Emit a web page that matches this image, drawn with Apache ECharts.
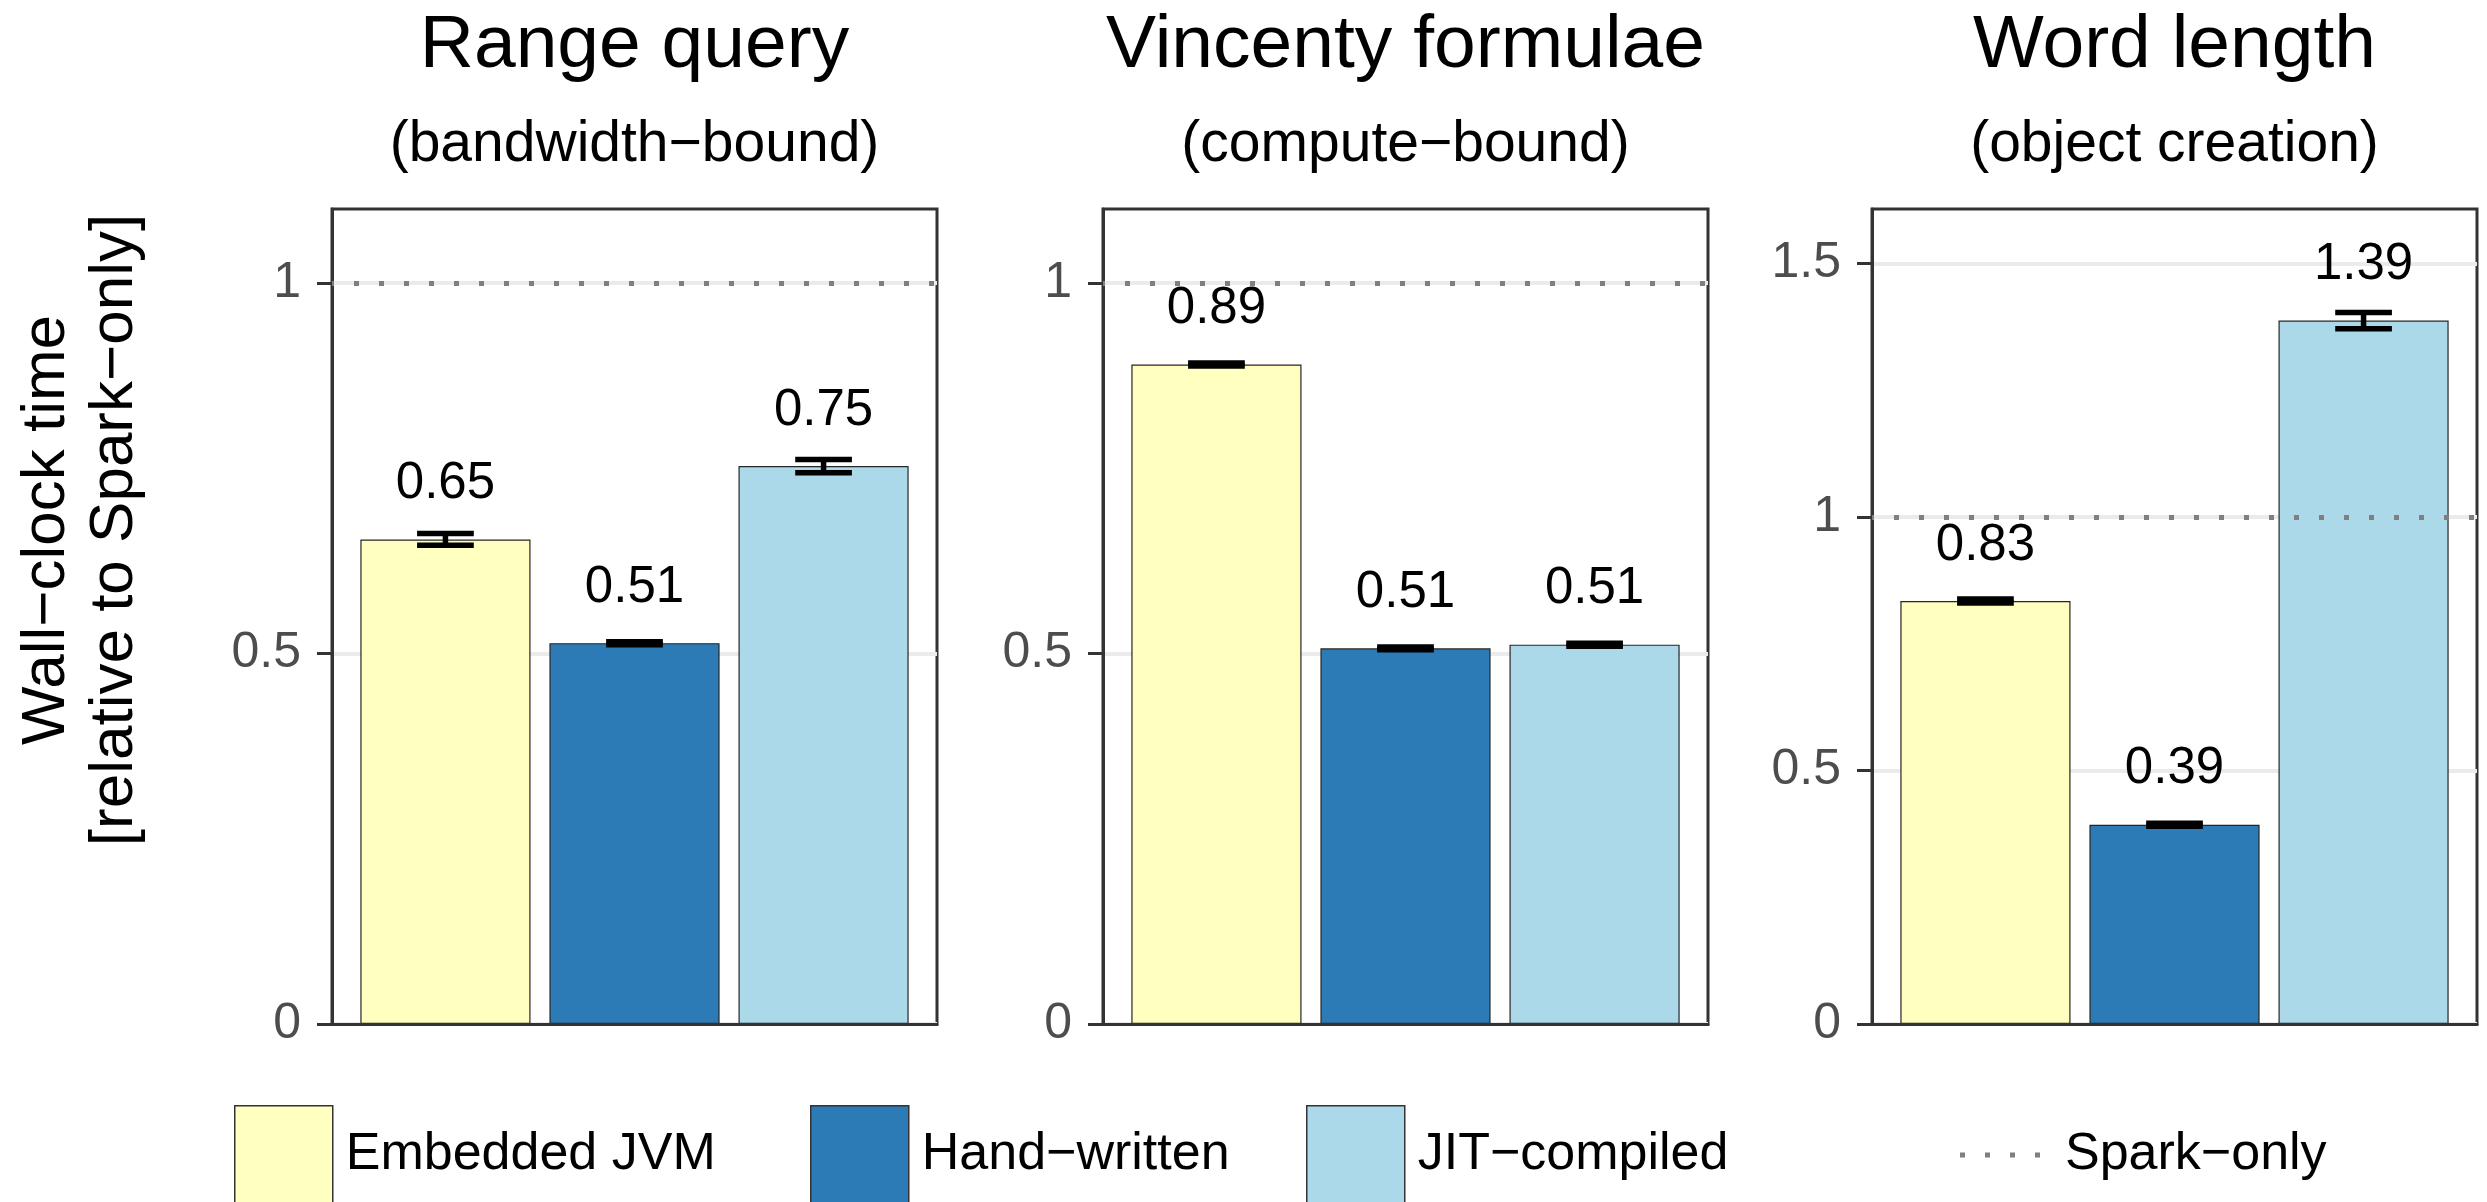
<!DOCTYPE html>
<html>
<head>
<meta charset="utf-8">
<script src="https://cdn.jsdelivr.net/npm/echarts@6/dist/echarts.min.js"></script>
<style>
  html, body { margin: 0; padding: 0; background: #ffffff; }
  #chart { width: 2487px; height: 1202px; }
</style>
</head>
<body>
<div id="chart"></div>
<script>
// Benchmarks (one panel each) and their workload class
const panelTitles = ['Range query', 'Vincenty formulae', 'Word length'];
const panelSubtitles = ['(bandwidth\u2212bound)', '(compute\u2212bound)', '(object creation)'];

// Implementation variants
const variants = ['Embedded JVM', 'Hand\u2212written', 'JIT\u2212compiled'];

// Mean wall-clock time relative to Spark-only, per benchmark
const embeddedJvm = [0.654, 0.890, 0.834];
const handWritten = [0.514, 0.507, 0.393];
const jitCompiled = [0.753, 0.512, 1.387];

// Half-width of the error bars, per benchmark
const embeddedJvmErr = [0.008, 0.002, 0.004];
const handWrittenErr = [0.002, 0.002, 0.003];
const jitCompiledErr = [0.009, 0.002, 0.016];

// Spark-only reference level
const sparkOnly = 1;
const sparkLabel = 'Spark\u2212only';

// Y axis extent and tick values per panel
const yMax = [1.1, 1.1, 1.607];
const yTicks = [[0, 0.5, 1], [0, 0.5, 1], [0, 0.5, 1, 1.5]];

// ---------------------------------------------------------------
const FONT = "'Liberation Sans', Arial, Helvetica, sans-serif";
const variantValues = [embeddedJvm, handWritten, jitCompiled];
const variantErrors = [embeddedJvmErr, handWrittenErr, jitCompiledErr];
const variantColors = ['#FFFFBF', '#2C7BB6', '#ABD9E9'];

const panelLeft = [332, 1103, 1872];
const PANEL_W = 605, PANEL_TOP = 209, PANEL_H = 815;
const FRAME = '#333333';

const panels = panelTitles.map((_, i) => i);

const grid = panels.map(i => ({
  left: panelLeft[i], top: PANEL_TOP, width: PANEL_W, height: PANEL_H,
  show: true, borderColor: FRAME, borderWidth: 3, backgroundColor: 'rgba(0,0,0,0)'
}));

const xAxis = panels.map(i => ({
  gridIndex: i, type: 'value', min: 0.4, max: 3.6, z: 10,
  axisLine: { show: true, onZero: false, lineStyle: { color: FRAME, width: 3 } },
  axisTick: { show: false }, axisLabel: { show: false }, splitLine: { show: false }
}));

const yAxis = panels.map(i => ({
  gridIndex: i, type: 'value', min: 0, max: yMax[i], interval: 0.5,
  axisLine: { show: true, lineStyle: { color: FRAME, width: 3 } },
  axisTick: { show: true, length: 15, customValues: yTicks[i], lineStyle: { color: FRAME, width: 3 } },
  axisLabel: { customValues: yTicks[i], margin: 31, fontSize: 50, color: '#4D4D4D', fontFamily: FONT },
  splitLine: { show: true, lineStyle: { color: '#EBEBEB', width: 4 } }
}));

const series = [];
panels.forEach(i => {
  // bars
  variants.forEach((name, k) => {
    series.push({
      type: 'bar', name, xAxisIndex: i, yAxisIndex: i,
      data: [[k + 1, variantValues[k][i]]],
      barWidth: '90%', barGap: '-100%', z: 2, silent: true,
      itemStyle: { color: variantColors[k], borderColor: '#262626', borderWidth: 1.2 },
      label: {
        show: true, position: 'top', distance: 30,
        fontSize: 51, lineHeight: 51, fontFamily: FONT, color: '#000000',
        formatter: p => p.value[1].toFixed(2)
      }
    });
  });
  // error bars
  series.push({
    type: 'custom', xAxisIndex: i, yAxisIndex: i, z: 3, silent: true,
    data: variants.map((_, k) => {
      const v = variantValues[k][i], e = variantErrors[k][i];
      return [k + 1, v - e, v + e];
    }),
    encode: { x: 0, y: [1, 2] },
    renderItem: (params, api) => {
      const x = api.value(0);
      const lo = api.coord([x, api.value(1)]);
      const hi = api.coord([x, api.value(2)]);
      const half = api.size([0.3, 0], [x, api.value(1)])[0] / 2;
      const st = { stroke: '#000000', lineWidth: 5.5, lineCap: 'butt' };
      return {
        type: 'group',
        children: [
          { type: 'line', shape: { x1: lo[0], y1: lo[1], x2: hi[0], y2: hi[1] }, style: st },
          { type: 'line', shape: { x1: lo[0] - half, y1: lo[1], x2: lo[0] + half, y2: lo[1] }, style: st },
          { type: 'line', shape: { x1: hi[0] - half, y1: hi[1], x2: hi[0] + half, y2: hi[1] }, style: st }
        ]
      };
    }
  });
  // Spark-only reference line
  series.push({
    type: 'line', name: sparkLabel, xAxisIndex: i, yAxisIndex: i, data: [],
    symbol: 'none', color: '#7F7F7F', z: 4, silent: true,
    lineStyle: { color: '#7F7F7F', width: 5, type: [5, 20] },
    markLine: {
      silent: true, symbol: ['none', 'none'], label: { show: false }, animation: false,
      lineStyle: { color: '#7F7F7F', width: 5, type: [5, 20], dashOffset: 3 },
      data: [{ yAxis: sparkOnly }]
    }
  });
});

const legendText = { fontSize: 52, fontFamily: FONT, color: '#000000', padding: [0, 0, 0, 8] };
const barLegendLeft = [234, 810, 1306];
const legend = variants.map((name, k) => ({
  data: [name], left: barLegendLeft[k], top: 1105, padding: 0,
  icon: 'rect', itemWidth: 98, itemHeight: 97, selectedMode: false,
  itemStyle: { borderColor: FRAME, borderWidth: 1.5 },
  textStyle: legendText
}));
legend.push({
  data: [sparkLabel], left: 1960, top: 1125, padding: 0,
  icon: 'path://M0,0h5v5h-5zM25,0h5v5h-5zM50,0h5v5h-5zM75,0h5v5h-5z',
  itemWidth: 82, itemHeight: 5, selectedMode: false,
  itemStyle: { color: '#7F7F7F', borderWidth: 0 },
  textStyle: { fontSize: 52, fontFamily: FONT, color: '#000000', lineHeight: 60, padding: [0, 0, 0, 19] }
});

const graphic = [];
panels.forEach(i => {
  const cx = panelLeft[i] + PANEL_W / 2;
  graphic.push({
    type: 'text', x: cx, y: 46, silent: true,
    style: { text: panelTitles[i], font: '75px ' + FONT, fill: '#000000', align: 'center', verticalAlign: 'middle' }
  });
  graphic.push({
    type: 'text', x: cx, y: 145, silent: true,
    style: { text: panelSubtitles[i], font: '57px ' + FONT, fill: '#000000', align: 'center', verticalAlign: 'middle' }
  });
});
graphic.push({
  type: 'text', x: 81, y: 530, rotation: Math.PI / 2, silent: true,
  style: {
    text: 'Wall\u2212clock time\n[relative to Spark\u2212only]',
    font: '62px ' + FONT, lineHeight: 68, fill: '#000000', align: 'center', verticalAlign: 'middle'
  }
});

const chart = echarts.init(document.getElementById('chart'), null, { renderer: 'canvas' });
chart.setOption({
  animation: false,
  backgroundColor: '#ffffff',
  grid, xAxis, yAxis, series, legend, graphic
});
</script>
</body>
</html>
